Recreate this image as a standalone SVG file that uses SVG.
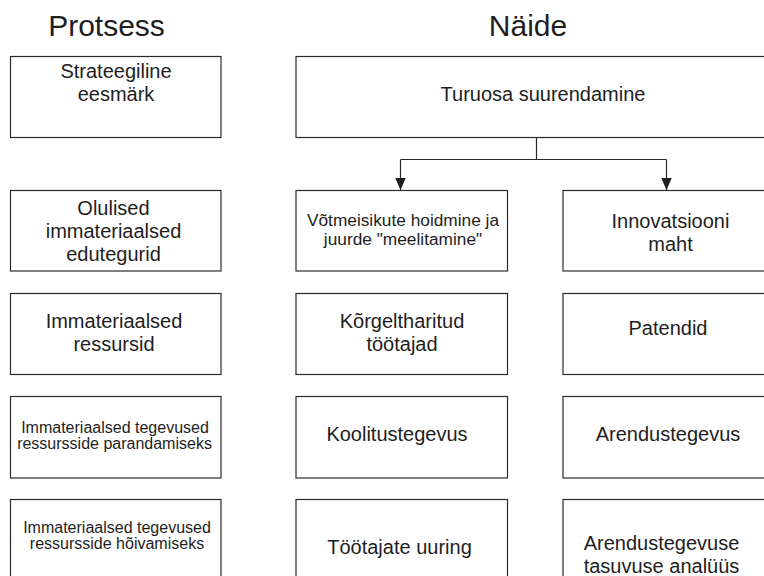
<svg xmlns="http://www.w3.org/2000/svg" width="764" height="576" viewBox="0 0 764 576">
  <style>
    .box { fill: #ffffff; stroke: #2a2a2a; stroke-width: 1.2; }
    .t { font-family: "Liberation Sans", Arial, sans-serif; fill: #1e1e1e; text-anchor: middle; font-size: 20px; }
    .s { font-size: 16px; }
    .m { font-size: 17.3px; }
    .h { font-size: 30px; }
    .wire { fill: none; stroke: #2a2a2a; stroke-width: 1.2; }
  </style>
  <defs>
    <!-- filled triangular arrowhead, drawn along +x so orient="auto" turns it with the line -->
    <marker id="arrow" markerUnits="userSpaceOnUse" markerWidth="13" markerHeight="12" viewBox="0 0 13 12" refX="12.5" refY="6" orient="auto">
      <path d="M0,0.5 L12.5,6 L0,11.5 Z" fill="#1e1e1e"/>
    </marker>
  </defs>
  <rect width="764" height="576" fill="#ffffff"/>

  <!-- column headings -->
  <text class="t h" x="106.5" y="36">Protsess</text>
  <text class="t h" x="528" y="36">Näide</text>

  <!-- process column -->
  <g id="p-goal">
    <rect class="box" x="10.5" y="56.5" width="210.5" height="81"/>
    <text class="t" x="116" y="77.5">Strateegiline</text>
    <text class="t" x="116" y="100.5">eesmärk</text>
  </g>
  <g id="p-factors">
    <rect class="box" x="10.5" y="190.5" width="210.5" height="80.5"/>
    <text class="t" x="113.5" y="215">Olulised</text>
    <text class="t" x="113.5" y="238">immateriaalsed</text>
    <text class="t" x="113.5" y="261">edutegurid</text>
  </g>
  <g id="p-resources">
    <rect class="box" x="10.5" y="293.5" width="210.5" height="81"/>
    <text class="t" x="114" y="327.7">Immateriaalsed</text>
    <text class="t" x="114" y="350.5">ressursid</text>
  </g>
  <g id="p-improve">
    <rect class="box" x="10.5" y="396.5" width="210.5" height="81.5"/>
    <text class="t s" x="115" y="432.5">Immateriaalsed tegevused</text>
    <text class="t s" x="114.5" y="449">ressursside parandamiseks</text>
  </g>
  <g id="p-acquire">
    <rect class="box" x="10.5" y="499.5" width="210.5" height="90"/>
    <text class="t s" x="117" y="532.5">Immateriaalsed tegevused</text>
    <text class="t s" x="117" y="549">ressursside hõivamiseks</text>
  </g>

  <!-- example column -->
  <g id="e-goal">
    <rect class="box" x="296" y="56.5" width="490" height="81"/>
    <text class="t" x="543" y="101">Turuosa suurendamine</text>
  </g>
  <g id="e-retain">
    <rect class="box" x="296" y="190.5" width="211.5" height="80.5"/>
    <text class="t m" x="403" y="226">Võtmeisikute hoidmine ja</text>
    <text class="t m" x="403" y="244.5">juurde "meelitamine"</text>
  </g>
  <g id="e-innovation">
    <rect class="box" x="563" y="190.5" width="220" height="80.5"/>
    <text class="t" x="670.5" y="227.7">Innovatsiooni</text>
    <text class="t" x="670.5" y="250.5">maht</text>
  </g>
  <g id="e-staff">
    <rect class="box" x="296" y="293.5" width="211.5" height="81"/>
    <text class="t" x="402" y="328">Kõrgeltharitud</text>
    <text class="t" x="402" y="351">töötajad</text>
  </g>
  <g id="e-patents">
    <rect class="box" x="563" y="293.5" width="220" height="81"/>
    <text class="t" x="668" y="335">Patendid</text>
  </g>
  <g id="e-training">
    <rect class="box" x="296" y="396.5" width="211.5" height="81.5"/>
    <text class="t" x="397" y="441">Koolitustegevus</text>
  </g>
  <g id="e-development">
    <rect class="box" x="563" y="396.5" width="220" height="81.5"/>
    <text class="t" x="668" y="441">Arendustegevus</text>
  </g>
  <g id="e-survey">
    <rect class="box" x="296" y="499.5" width="211.5" height="90"/>
    <text class="t" x="399.5" y="554">Töötajate uuring</text>
  </g>
  <g id="e-analysis">
    <rect class="box" x="563" y="499.5" width="220" height="90"/>
    <text class="t" x="661.5" y="550">Arendustegevuse</text>
    <text class="t" x="661.5" y="572.7">tasuvuse analüüs</text>
  </g>

  <!-- connectors -->
  <g id="connectors">
    <path class="wire" d="M536.5,137.5 V159.5 M400.5,159.5 H666.5"/>
    <path class="wire" d="M400.5,159.5 V190" marker-end="url(#arrow)"/>
    <path class="wire" d="M666.5,159.5 V190" marker-end="url(#arrow)"/>
  </g>
</svg>
